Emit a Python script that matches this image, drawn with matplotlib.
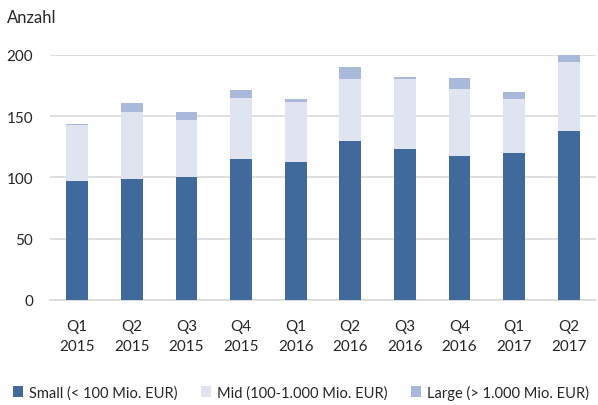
import matplotlib
matplotlib.use("Agg")
import matplotlib.pyplot as plt
import numpy as np

categories = ["Q1\n2015", "Q2\n2015", "Q3\n2015", "Q4\n2015", "Q1\n2016",
              "Q2\n2016", "Q3\n2016", "Q4\n2016", "Q1\n2017", "Q2\n2017"]
small = [97, 99, 100, 115, 112.5, 130, 123, 117, 120, 138]
mid = [46, 54, 47, 50, 49, 50, 57, 55, 44, 56]
large = [0.5, 8, 6.5, 6, 2, 10, 1.5, 9, 5.5, 6]
series_names = ["Small (< 100 Mio. EUR)", "Mid (100-1.000 Mio. EUR)", "Large (> 1.000 Mio. EUR)"]
colors = ["#3F6A9B", "#DFE4F0", "#A9B9D9"]

plt.rcParams['font.family'] = ['Lato', 'DejaVu Sans']
txt = "#262626"

fig = plt.figure(figsize=(5.98, 4.06), dpi=100)
ax = fig.add_axes([50/598, 105/406, 546/598, 245.3/406])

x = np.arange(len(categories))
w = 0.4
b1 = ax.bar(x, small, w, color=colors[0], label=series_names[0], zorder=3)
b2 = ax.bar(x, mid, w, bottom=small, color=colors[1], label=series_names[1], zorder=3)
bot2 = np.array(small) + np.array(mid)
b3 = ax.bar(x, large, w, bottom=bot2, color=colors[2], label=series_names[2], zorder=3)

ax.set_xlim(-0.5, len(categories) - 0.5)
ax.set_ylim(0, 200)
ax.set_yticks([0, 50, 100, 150, 200])
ax.set_xticks(x)
ax.set_xticklabels(categories, fontsize=11, color=txt, linespacing=1.6)
ax.tick_params(axis='y', labelsize=11, colors=txt, length=0, pad=12)
ax.tick_params(axis='x', length=0, pad=13.5)
ax.grid(axis='y', color="#D9D9D9", linewidth=1.2, zorder=0)
for s in ["top", "right", "left"]:
    ax.spines[s].set_visible(False)
ax.spines["bottom"].set_color("#D9D9D9")
ax.spines["bottom"].set_linewidth(1.2)

fig.text(7/598, 1 - 18/406, "Anzahl", fontsize=12, color=txt, va='center', ha='left')

leg = fig.legend(handles=[b1, b2, b3], labels=series_names, loc='center',
                 bbox_to_anchor=(0.503, 1 - 393/406), ncol=3, frameon=False,
                 fontsize=10.5, handlelength=0.7, handleheight=0.7,
                 handletextpad=0.4, columnspacing=1.6)
for t in leg.get_texts():
    t.set_color(txt)

fig.savefig("out.png", dpi=100)
